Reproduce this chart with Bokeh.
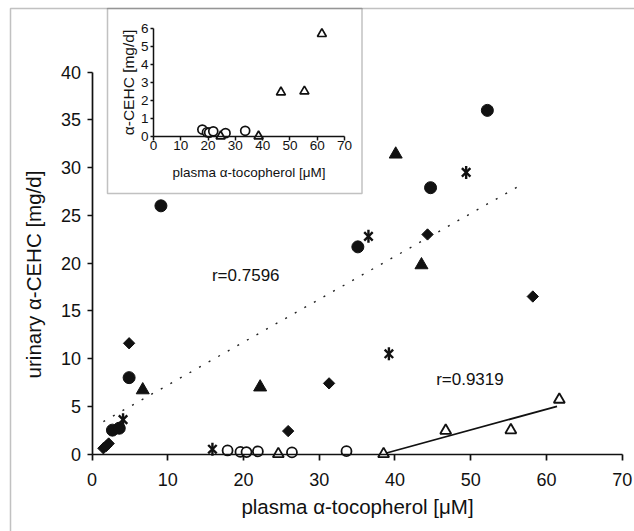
import numpy as np
from bokeh.plotting import figure
from bokeh.models import Range1d, BoxAnnotation, LinearAxis, FixedTicker
from bokeh.embed import file_html
from bokeh.resources import INLINE
from bokeh.core.properties import value

FONT = "Liberation Sans"

# ---- data ----
# filled circles
circ_x = [9.1, 35.1, 52.2, 44.7, 4.9, 2.7, 3.6]
circ_y = [26.0, 21.7, 36.0, 27.9, 8.0, 2.5, 2.7]
# filled triangles
tri_x = [40.1, 43.5, 6.7, 22.2]
tri_y = [31.4, 19.8, 6.7, 7.0]
# filled diamonds
dia_x = [44.3, 58.2, 4.9, 31.3, 25.9, 2.2, 1.5, 1.9]
dia_y = [23.0, 16.5, 11.6, 7.4, 2.4, 1.1, 0.6, 0.85]
# stars
star_x = [49.4, 36.5, 39.2, 4.1, 15.9]
star_y = [29.5, 22.8, 10.5, 3.6, 0.5]
# open circles
ocirc_x = [17.9, 19.6, 20.4, 21.9, 26.4, 33.6]
ocirc_y = [0.37, 0.22, 0.2, 0.27, 0.17, 0.3]
# open triangles
otri_x = [24.6, 38.5, 46.7, 55.3, 61.7]
otri_y = [0.0, 0.0, 2.45, 2.5, 5.7]
# trend lines (end points)
fit_all_x = [1.5, 56.9]
fit_all_y = [3.4, 28.3]
fit_open_x = [38.4, 61.4]
fit_open_y = [0.0, 5.0]
# r labels
r_text = ["r=0.7596", "r=0.9319"]
r_x = [20.3, 49.9]
r_y = [18.7, 7.8]
# ticks
x_ticks = [0, 10, 20, 30, 40, 50, 60, 70]
y_ticks = [0, 5, 10, 15, 20, 25, 30, 35, 40]
inset_y_ticks = [0, 1, 2, 3, 4, 5, 6]

INK = "#111111"

# ---- layout (canvas pixels) ----
W, H = 634, 531
X0, XS = 91.5, 7.574      # main: canvas x of x=0, px per unit
Y0, YS = 453.5, 9.545     # main: canvas y of y=0, px per unit
IX0, IXS = 153.0, 2.729   # inset
IY0, IYS = 135.7, 17.95

p = figure(width=W, height=H,
           x_range=Range1d(-X0 / XS, (W - X0) / XS),
           y_range=Range1d(-(H - Y0) / YS, Y0 / YS),
           x_axis_type=None, y_axis_type=None, min_border=0,
           output_backend="svg", toolbar_location=None,
           background_fill_color="white", border_fill_color="white",
           outline_line_color=None)
p.grid.visible = False
p.extra_x_ranges = {"ix": Range1d(-IX0 / IXS, (W - IX0) / IXS)}
p.extra_y_ranges = {"iy": Range1d(-(H - IY0) / IYS, IY0 / IYS)}


def style(ax, tick_size, title_size, lw):
    ax.axis_label_text_font = FONT
    ax.axis_label_text_font_size = title_size
    ax.axis_label_text_font_style = "normal"
    ax.axis_label_text_color = INK
    ax.major_label_text_font = FONT
    ax.major_label_text_font_size = tick_size
    ax.major_label_text_color = INK
    ax.axis_line_width = lw
    ax.axis_line_color = INK
    ax.major_tick_line_width = lw
    ax.major_tick_line_color = INK
    ax.major_tick_in = 0
    ax.minor_tick_line_color = None


# main axes
xa = LinearAxis(fixed_location=0, bounds=(0, 70), ticker=FixedTicker(ticks=x_ticks),
                axis_label="plasma α-tocopherol [μM]")
ya = LinearAxis(fixed_location=0, bounds=(0, 40), ticker=FixedTicker(ticks=y_ticks))
style(xa, "18px", "20.5px", 1.7)
style(ya, "18px", "20.5px", 1.7)
xa.major_tick_out = 6
ya.major_tick_out = 5
xa.major_label_standoff = 13
ya.major_label_standoff = 6
xa.axis_label_standoff = 5
p.add_layout(xa, "below")
p.add_layout(ya, "left")

# y title carried by a line-less axis so that it is centred where the reference has it
ylab = LinearAxis(fixed_location=0, bounds=(-2.4, 40), ticker=FixedTicker(ticks=[]),
                  axis_label="urinary α-CEHC [mg/d]")
style(ylab, "18px", "20.5px", 1.7)
ylab.axis_line_color = None
ylab.major_tick_line_color = None
ylab.major_tick_out = 0
ylab.major_label_standoff = 0
ylab.axis_label_standoff = 48
p.add_layout(ylab, "left")

# inset axes
ixa = LinearAxis(x_range_name="ix", y_range_name="iy", fixed_location=0, bounds=(0, 70),
                 ticker=FixedTicker(ticks=x_ticks), axis_label="plasma α-tocopherol [μM]")
iya = LinearAxis(x_range_name="ix", y_range_name="iy", fixed_location=0, bounds=(0, 6),
                 ticker=FixedTicker(ticks=inset_y_ticks), axis_label="α-CEHC [mg/d]")
style(ixa, "13.5px", "13.5px", 1.5)
style(iya, "13.5px", "15.5px", 1.5)
ixa.major_tick_out = 4
iya.major_tick_out = 3
ixa.major_label_standoff = 1
iya.major_label_standoff = 2
ixa.axis_label_standoff = 11
iya.axis_label_standoff = 1
p.add_layout(ixa, "below")
p.add_layout(iya, "left")

# main marks
p.line(fit_all_x, fit_all_y, line_dash="2 9", line_width=1.4, line_color="#222222")
p.line(fit_open_x, fit_open_y, line_width=1.8, line_color=INK)

p.scatter(circ_x, circ_y, marker="circle", size=12, color=INK)
p.scatter(tri_x, tri_y, marker="triangle", size=13, color=INK)
p.scatter(dia_x, dia_y, marker="square", angle=np.pi / 4, size=8, color=INK)
p.scatter(star_x, star_y, marker="x", size=12, line_width=2.4, line_color=INK)
p.scatter(star_x, star_y, marker="dash", angle=np.pi / 2, size=13, line_width=2.4, line_color=INK)
p.scatter(ocirc_x, ocirc_y, marker="circle", size=10, line_width=1.8,
          line_color=INK, fill_color="white")
p.scatter(otri_x, otri_y, marker="triangle", size=11, line_width=1.8,
          line_color=INK, fill_color="white")

p.text(x=r_x, y=r_y, text=r_text, text_font=value(FONT), text_font_size="17px",
       text_align="center", text_baseline="middle", text_color=INK)

# inset marks
p.scatter(ocirc_x, ocirc_y, x_range_name="ix", y_range_name="iy", marker="circle",
          size=9, line_width=1.7, line_color=INK, fill_color="white")
p.scatter(otri_x, otri_y, x_range_name="ix", y_range_name="iy", marker="triangle",
          size=9, line_width=1.7, line_color=INK, fill_color="white")

# frames
outer = BoxAnnotation(left=10, right=3000, top=8, bottom=3000,
                      left_units="canvas", right_units="canvas",
                      top_units="canvas", bottom_units="canvas",
                      fill_color=None, line_color="#333333", line_width=1.5)
inset_box = BoxAnnotation(left=107, right=361.5, top=8, bottom=193,
                          left_units="canvas", right_units="canvas",
                          top_units="canvas", bottom_units="canvas",
                          fill_color=None, line_color="#333333", line_width=1.5)
p.add_layout(outer)
p.add_layout(inset_box)

open("out.html", "w").write(file_html(p, INLINE))
